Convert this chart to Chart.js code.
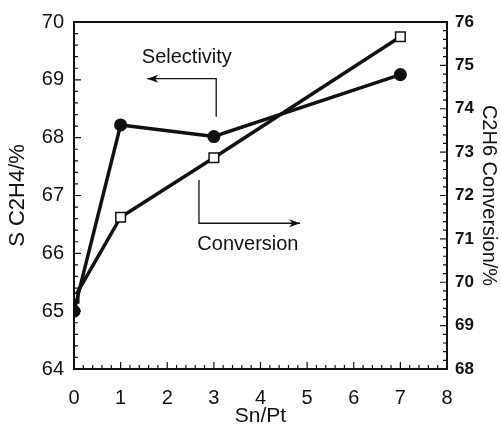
<!DOCTYPE html>
<html>
<head>
<meta charset="utf-8">
<script src="https://cdn.jsdelivr.net/npm/chart.js@4/dist/chart.umd.min.js"></script>
<style>
    body { margin: 0; background: #fff; }
    #wrap { width: 501px; height: 429px; position: relative; }
</style>
</head>
<body>
<div id="wrap"><canvas id="chart"></canvas></div>
<script>
// data
const snPt = [0, 1, 3, 7];
const selectivity = [65.0, 68.22, 68.02, 69.09];
const conversion = [69.63, 71.5, 72.87, 75.66];

const leftTicks = [64, 65, 66, 67, 68, 69, 70];
const rightTicks = [68, 69, 70, 71, 72, 73, 74, 75, 76];
const xTicks = [0, 1, 2, 3, 4, 5, 6, 7, 8];

const ink = '#111';
const fontFamily = "'Liberation Sans', Arial, sans-serif";

function toPoints(xs, ys) {
    return xs.map(function(x, i) { return { x: x, y: ys[i] }; });
}

// inward tick marks, frame and the two arrow notes
const framePlugin = {
    id: 'frameTicks',
    afterDraw: function(chart) {
        const ctx = chart.ctx;
        const area = chart.chartArea;
        const xs = chart.scales.x, yl = chart.scales.yL, yr = chart.scales.yR;
        ctx.save();
        ctx.strokeStyle = ink;
        ctx.lineWidth = 2;
        ctx.strokeRect(area.left, area.top, area.right - area.left, area.bottom - area.top);

        ctx.lineWidth = 1.2;
        ctx.beginPath();
        for (let i = 0; i <= 30; i++) {
            const v = 64 + i * 0.2;
            const y = yl.getPixelForValue(v);
            const len = i % 5 === 0 ? 7 : 4;
            ctx.moveTo(area.left, y);
            ctx.lineTo(area.left + len, y);
        }
        for (let i = 0; i <= 40; i++) {
            const v = 68 + i * 0.2;
            const y = yr.getPixelForValue(v);
            const len = i % 5 === 0 ? 7 : 4;
            ctx.moveTo(area.right, y);
            ctx.lineTo(area.right - len, y);
        }
        for (let i = 0; i <= 40; i++) {
            const v = i * 0.2;
            const x = xs.getPixelForValue(v);
            const len = i % 5 === 0 ? 7 : 4;
            ctx.moveTo(x, area.bottom);
            ctx.lineTo(x, area.bottom - len);
        }
        ctx.stroke();

        function arrow(x1, y1, x2, y2, x3, y3) {
            ctx.lineWidth = 1.3;
            ctx.beginPath();
            ctx.moveTo(x1, y1);
            ctx.lineTo(x2, y2);
            ctx.lineTo(x3, y3);
            ctx.stroke();
            const dir = x3 > x2 ? 1 : -1;
            ctx.beginPath();
            ctx.moveTo(x3, y3);
            ctx.lineTo(x3 - dir * 11, y3 - 4);
            ctx.lineTo(x3 - dir * 8, y3);
            ctx.lineTo(x3 - dir * 11, y3 + 4);
            ctx.closePath();
            ctx.fillStyle = ink;
            ctx.fill();
        }
        // "Selectivity" points to the left axis, "Conversion" to the right one
        arrow(xs.getPixelForValue(3.05), yl.getPixelForValue(68.36),
              xs.getPixelForValue(3.05), yl.getPixelForValue(69.02),
              xs.getPixelForValue(1.57), yl.getPixelForValue(69.02));
        arrow(xs.getPixelForValue(2.68), yl.getPixelForValue(67.27),
              xs.getPixelForValue(2.68), yl.getPixelForValue(66.52),
              xs.getPixelForValue(4.85), yl.getPixelForValue(66.52));

        ctx.fillStyle = ink;
        ctx.font = '20px ' + fontFamily;
        ctx.textAlign = 'center';
        ctx.textBaseline = 'middle';
        ctx.fillText('Selectivity', xs.getPixelForValue(2.42), yl.getPixelForValue(69.38));
        ctx.fillText('Conversion', xs.getPixelForValue(3.73), yl.getPixelForValue(66.16));
        ctx.restore();
    }
};

const ctx = document.getElementById('chart').getContext('2d');
new Chart(ctx, {
    type: 'line',
    data: {
        datasets: [{
            label: 'Selectivity',
            data: toPoints(snPt, selectivity),
            yAxisID: 'yL',
            borderColor: ink,
            borderWidth: 3.5,
            pointStyle: 'circle',
            pointRadius: 4.8,
            pointBackgroundColor: ink,
            pointBorderColor: ink,
            tension: 0
        }, {
            label: 'Conversion',
            data: toPoints(snPt, conversion),
            yAxisID: 'yR',
            borderColor: ink,
            borderWidth: 3.5,
            pointStyle: 'rect',
            pointRadius: 6.8,
            pointBackgroundColor: '#fff',
            pointBorderColor: ink,
            pointBorderWidth: 1.5,
            tension: 0
        }]
    },
    options: {
        responsive: true,
        maintainAspectRatio: false,
        animation: false,
        layout: { padding: { top: 16, left: 0, right: 0, bottom: 0 } },
        plugins: {
            legend: { display: false },
            tooltip: { enabled: false }
        },
        scales: {
            x: {
                type: 'linear',
                min: 0,
                max: 8,
                afterBuildTicks: function(scale) {
                    scale.ticks = xTicks.map(function(v) { return { value: v }; });
                },
                afterFit: function(scale) { scale.height = 60; },
                grid: { display: false, drawTicks: false },
                border: { display: false },
                ticks: { color: ink, padding: 17, font: { family: fontFamily, size: 20 } },
                title: {
                    display: true,
                    text: 'Sn/Pt',
                    color: ink,
                    font: { family: fontFamily, size: 21 },
                    padding: { top: 0, bottom: 0 }
                }
            },
            yL: {
                type: 'linear',
                position: 'left',
                min: 64,
                max: 70,
                afterBuildTicks: function(scale) {
                    scale.ticks = leftTicks.map(function(v) { return { value: v }; });
                },
                afterFit: function(scale) { scale.width = 74; },
                grid: { display: false, drawTicks: false },
                border: { display: false },
                ticks: { color: ink, padding: 10, font: { family: fontFamily, size: 20 } },
                title: {
                    display: true,
                    text: 'S C2H4/%',
                    color: ink,
                    font: { family: fontFamily, size: 22 },
                    padding: { top: 5, bottom: 0 }
                }
            },
            yR: {
                type: 'linear',
                position: 'right',
                min: 68,
                max: 76,
                afterBuildTicks: function(scale) {
                    scale.ticks = rightTicks.map(function(v) { return { value: v }; });
                },
                afterFit: function(scale) { scale.width = 54; },
                grid: { display: false, drawTicks: false },
                border: { display: false },
                ticks: { color: ink, padding: 8, font: { family: fontFamily, size: 17, weight: 'bold' } },
                title: {
                    display: true,
                    text: 'C2H6 Conversion/%',
                    color: ink,
                    font: { family: fontFamily, size: 20 },
                    padding: { top: 0, bottom: 0 }
                }
            }
        }
    },
    plugins: [framePlugin]
});
</script>
</body>
</html>
